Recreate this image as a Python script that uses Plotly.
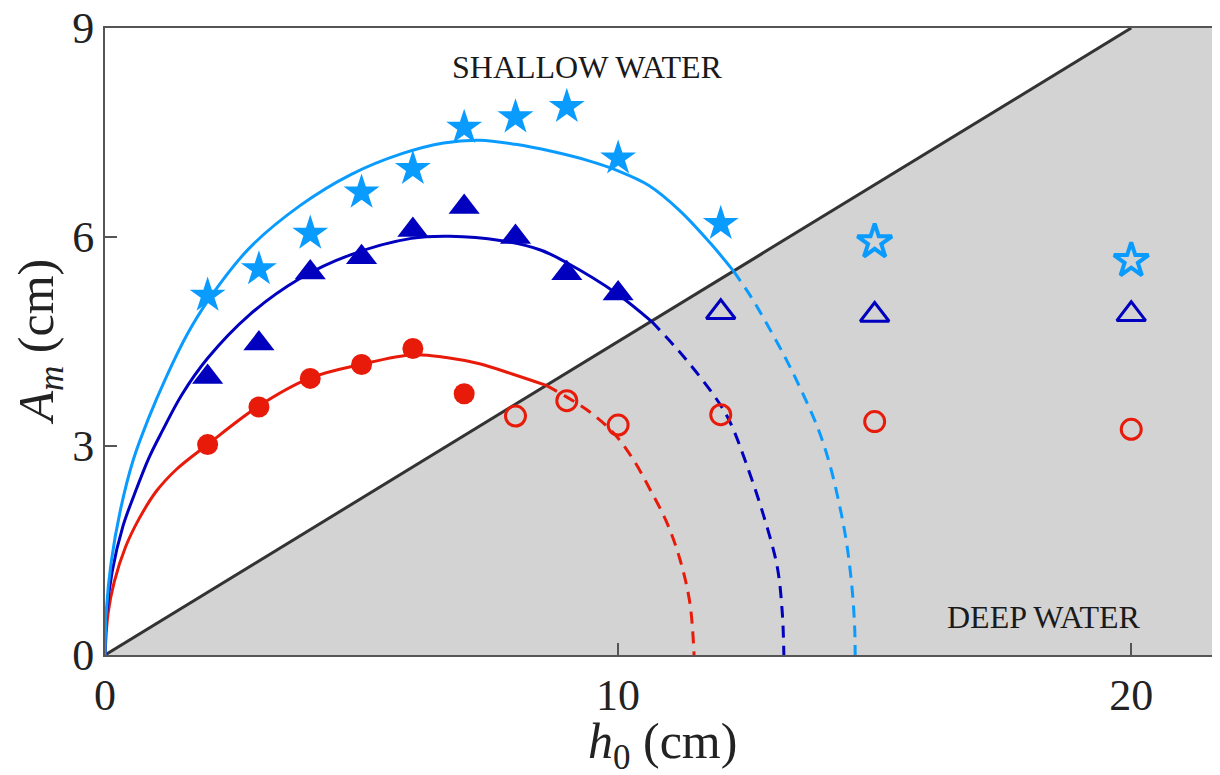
import plotly.graph_objects as go

# ---------------- data ----------------
# light-blue stars
star_h_fill = [2, 3, 4, 5, 6, 7, 8, 9, 10, 12]
star_A_fill = [5.16, 5.54, 6.05, 6.64, 6.98, 7.57, 7.72, 7.87, 7.13, 6.19]
star_h_open = [15, 20]
star_A_open = [5.93, 5.66]

# dark-blue triangles
tri_h_fill = [2, 3, 4, 5, 6, 7, 8, 9, 10]
tri_A_fill = [3.99, 4.47, 5.49, 5.71, 6.10, 6.43, 6.00, 5.48, 5.19]
tri_h_open = [12, 15, 20]
tri_A_open = [4.92, 4.88, 4.89]

# red circles
circ_h_fill = [2, 3, 4, 5, 6, 7]
circ_A_fill = [3.02, 3.56, 3.97, 4.17, 4.40, 3.75]
circ_h_open = [8, 9, 10, 12, 15, 20]
circ_A_open = [3.43, 3.65, 3.30, 3.45, 3.35, 3.24]

# fitted curves (solid = shallow-water part, dashed = deep-water part)
lb_solid_h = [0, 0.03, 0.12, 0.30, 0.55, 0.85, 1.20, 1.60, 2.00, 2.80, 3.80, 4.80, 5.80, 6.60, 7.30,
              8.00, 8.70, 9.40, 10.00, 10.60, 11.20, 11.80, 12.25]
lb_solid_A = [0, 0.67, 1.33, 2.08, 2.80, 3.40, 4.00, 4.60, 5.08, 5.83, 6.45, 6.90, 7.20, 7.35, 7.39,
              7.33, 7.23, 7.10, 6.95, 6.74, 6.38, 5.91, 5.51]
lb_dash_h = [12.25, 12.60, 12.90, 13.25, 13.55, 13.88, 14.10, 14.30, 14.45, 14.56, 14.61, 14.62]
lb_dash_A = [5.51, 5.13, 4.75, 4.28, 3.83, 3.28, 2.80, 2.20, 1.62, 0.95, 0.40, 0.0]

db_solid_h = [0, 0.03, 0.14, 0.35, 0.57, 0.85, 1.12, 1.50, 2.00, 2.81, 3.79, 4.77, 5.97, 6.72, 7.70,
              8.50, 9.00, 9.97, 10.65]
db_solid_A = [0, 0.58, 1.20, 1.85, 2.30, 2.82, 3.22, 3.74, 4.26, 4.88, 5.40, 5.74, 5.98, 6.01, 5.95,
              5.81, 5.63, 5.19, 4.79]
db_dash_h = [10.65, 11.28, 11.93, 12.19, 12.51, 12.84, 13.10, 13.20, 13.23]
db_dash_A = [4.79, 4.28, 3.66, 3.33, 2.72, 1.99, 1.27, 0.60, 0.0]

rd_solid_h = [0, 0.06, 0.18, 0.40, 0.66, 1.00, 1.40, 1.98, 2.99, 3.98, 4.99, 6.00, 6.65, 7.30, 7.95, 8.60]
rd_solid_A = [0, 0.60, 1.05, 1.55, 1.95, 2.35, 2.67, 3.01, 3.57, 3.97, 4.17, 4.31, 4.27, 4.18, 4.03, 3.87]
rd_dash_h = [8.60, 9.39, 9.92, 10.30, 10.62, 10.95, 11.21, 11.40, 11.48]
rd_dash_A = [3.87, 3.52, 3.18, 2.80, 2.38, 1.90, 1.36, 0.74, 0.0]

# deep/shallow boundary and shaded deep-water region
bound_h = [0, 20]
bound_A = [0, 9]
shade_h = [0, 20, 23, 23]
shade_A = [0, 9, 9, 0]

x_ticks = [0, 10, 20]
y_ticks = [0, 3, 6, 9]

# ---------------- styles ----------------
LB = "#0A9BFF"
DB = "#0000BE"
RD = "#E81B0A"
FONT = "Liberation Serif"

fig = go.Figure()

fig.add_trace(go.Scatter(x=shade_h, y=shade_A, fill="toself", fillcolor="#D3D3D3",
                         mode="none", hoverinfo="skip", showlegend=False))
fig.add_trace(go.Scatter(x=bound_h, y=bound_A, mode="lines",
                         line=dict(color="#333333", width=3), showlegend=False))

for sh, sa, dh, da, col in [(rd_solid_h, rd_solid_A, rd_dash_h, rd_dash_A, RD),
                             (db_solid_h, db_solid_A, db_dash_h, db_dash_A, DB),
                             (lb_solid_h, lb_solid_A, lb_dash_h, lb_dash_A, LB)]:
    fig.add_trace(go.Scatter(x=sh, y=sa, mode="lines",
                             line=dict(color=col, width=3, shape="spline", smoothing=1.0),
                             showlegend=False))
    fig.add_trace(go.Scatter(x=dh, y=da, mode="lines",
                             line=dict(color=col, width=3, shape="spline", smoothing=1.0, dash="12px,8px"),
                             showlegend=False))

# markers
fig.add_trace(go.Scatter(x=circ_h_fill, y=circ_A_fill, mode="markers",
                         marker=dict(symbol="circle", size=21, color=RD, line=dict(width=0)),
                         showlegend=False))
fig.add_trace(go.Scatter(x=circ_h_open, y=circ_A_open, mode="markers",
                         marker=dict(symbol="circle-open", size=20, color=RD, line=dict(width=3, color=RD)),
                         showlegend=False))
fig.add_trace(go.Scatter(x=tri_h_fill, y=tri_A_fill, mode="markers",
                         marker=dict(symbol="triangle-up", size=27, color=DB, line=dict(width=0)),
                         showlegend=False))
fig.add_trace(go.Scatter(x=tri_h_open, y=tri_A_open, mode="markers",
                         marker=dict(symbol="triangle-up-open", size=25, color=DB, line=dict(width=3, color=DB)),
                         showlegend=False))
fig.add_trace(go.Scatter(x=star_h_fill, y=star_A_fill, mode="markers",
                         marker=dict(symbol="star", size=27, color=LB, line=dict(width=0)),
                         showlegend=False))
fig.add_trace(go.Scatter(x=star_h_open, y=star_A_open, mode="markers",
                         marker=dict(symbol="star-open", size=26, color=LB, line=dict(width=4, color=LB)),
                         showlegend=False))

fig.add_annotation(x=9.4, y=8.44, text="SHALLOW WATER", showarrow=False,
                   font=dict(family=FONT, size=32, color="#1a1a1a"))
fig.add_annotation(x=18.3, y=0.55, text="DEEP WATER", showarrow=False,
                   font=dict(family=FONT, size=32, color="#1a1a1a"))

# axis titles
fig.add_annotation(xref="paper", yref="paper", x=0.5, y=0, yshift=-90, yanchor="middle", xanchor="center",
                   showarrow=False, text="<i>h</i><sub>0</sub> (cm)",
                   font=dict(family=FONT, size=50, color="#222"))
fig.add_annotation(xref="paper", yref="paper", x=0, y=0.5, xshift=-66, xanchor="center", yanchor="middle",
                   showarrow=False, textangle=-90, text="<i>A</i><sub><i>m</i></sub> (cm)",
                   font=dict(family=FONT, size=50, color="#222"))

axis_common = dict(showgrid=False, zeroline=False, showline=True, linecolor="#555555", linewidth=2,
                   ticks="inside", ticklen=12, tickwidth=1.5, tickcolor="#555555", automargin=False,
                   ticklabeloverflow="allow",
                   tickfont=dict(family=FONT, size=44, color="#222"))
fig.update_xaxes(range=[0, 21.73], tickvals=x_ticks, mirror=True, **axis_common)
fig.update_yaxes(range=[0, 9], tickvals=y_ticks, mirror=False, **axis_common)

# the page adds an 8 px body margin, so the figure is 8 px smaller and margins shifted
fig.update_layout(width=1212, height=767, margin=dict(l=97, r=0, t=20, b=120),
                  paper_bgcolor="white", plot_bgcolor="white")

fig.write_html("out.html")
